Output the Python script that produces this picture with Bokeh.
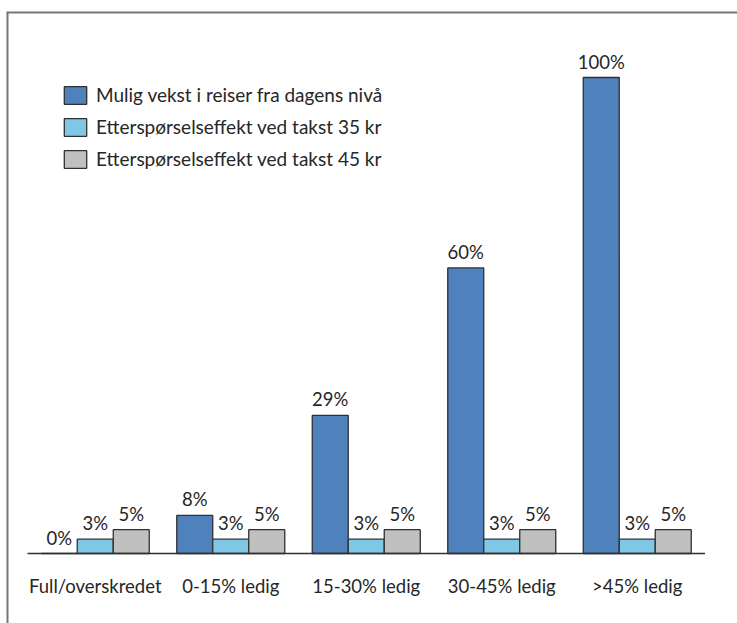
from bokeh.plotting import figure
from bokeh.models import Range1d, Legend, LegendItem, ColumnDataSource
from bokeh.core.properties import value
from bokeh.embed import file_html
from bokeh.resources import INLINE

# Capacity categories and series (percent)
categories = ["Full/overskredet", "0-15% ledig", "15-30% ledig", "30-45% ledig", ">45% ledig"]
vekst = [0, 8, 29, 60, 100]
takst35 = [3, 3, 3, 3, 3]
takst45 = [5, 5, 5, 5, 5]
series_names = [
    "Mulig vekst i reiser fra dagens nivå",
    "Etterspørselseffekt ved takst 35 kr",
    "Etterspørselseffekt ved takst 45 kr",
]

W, H = 737, 623
FONT = "Lato"
TEXT_COLOR = "#262626"

# pixel layout of the category axis and value axis
AX_LEFT, AX_RIGHT = 27, 704.5
BASE_PX, TOP_PX, TOP_VAL = 553, 77, 100
ppx = (AX_RIGHT - AX_LEFT) / len(categories)
ppy = (BASE_PX - TOP_PX) / TOP_VAL

x_range = Range1d(-AX_LEFT / ppx, (W - AX_LEFT) / ppx)
y_range = Range1d(-(H - BASE_PX) / ppy, BASE_PX / ppy)


def xd(px):
    return (px - AX_LEFT) / ppx


def yd(px):
    return (BASE_PX - px) / ppy


p = figure(width=W, height=H, x_range=x_range, y_range=y_range,
           output_backend="svg", toolbar_location=None,
           min_border=0, min_border_left=0, min_border_right=0,
           min_border_top=0, min_border_bottom=0)
p.axis.visible = False
p.grid.visible = False
p.outline_line_color = None
p.background_fill_color = "white"
p.border_fill_color = "white"

# outer frame (left and top edges)
p.segment(x0=[xd(7), xd(6)], y0=[yd(12), yd(12)],
          x1=[xd(7), x_range.end], y1=[y_range.start, yd(12)],
          line_color="#767676", line_width=2)

bar_w = 36 / ppx
centers = [i + 0.5 for i in range(len(categories))]
colors = ["#4F81BD", "#7EC8E6", "#C0C0C0"]
offsets = [-bar_w, 0, bar_w]
values = [vekst, takst35, takst45]

renderers = []
for vals, off, col in zip(values, offsets, colors):
    src = ColumnDataSource(dict(
        x=[c + off for c in centers],
        top=vals,
        label=[f"{v}%" for v in vals],
    ))
    r = p.vbar(x="x", top="top", bottom=0, width=bar_w, source=src,
               fill_color=col, line_color="#303030", line_width=1.3)
    renderers.append(r)
    p.text(x="x", y="top", text="label", source=src,
           text_align="center", text_baseline="bottom", y_offset=-5,
           text_font=value(FONT), text_font_size="18.5px", text_color=TEXT_COLOR)

# baseline
p.segment(x0=[0], y0=[0], x1=[len(categories)], y1=[0],
          line_color="#303030", line_width=1.5)

# category labels
p.text(x=centers, y=[0] * len(categories), text=categories,
       text_align="center", text_baseline="middle", y_offset=32,
       text_font=value(FONT), text_font_size="18.5px", text_color=TEXT_COLOR)

legend = Legend(
    items=[LegendItem(label=n, renderers=[r]) for n, r in zip(series_names, renderers)],
    location=(61, H - 170),
    orientation="vertical",
    padding=0, margin=0, spacing=9,
    glyph_width=28, glyph_height=22, label_height=22, label_standoff=7,
    label_text_font=FONT, label_text_font_size="19px", label_text_color=TEXT_COLOR,
    border_line_color=None, background_fill_alpha=0,
)
p.add_layout(legend)

open("out.html", "w").write(file_html(p, INLINE))
